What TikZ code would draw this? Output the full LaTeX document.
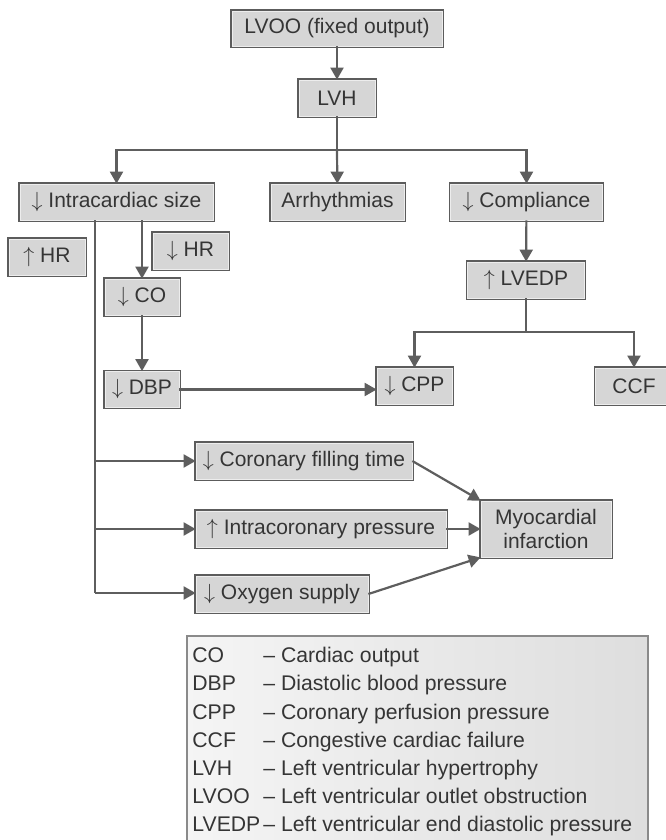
\documentclass[tikz,border=0pt]{standalone}
\usepackage{fontspec}
\setmainfont{Liberation Sans}
\usetikzlibrary{positioning, arrows.meta}
\usepackage{xcolor}
\definecolor{boxfill}{HTML}{D6D6D6}
\definecolor{boxline}{HTML}{5C5C5C}
\definecolor{boxrim}{HTML}{EDEDED}
\definecolor{ink}{HTML}{353535}
\definecolor{wire}{HTML}{5E5E5E}
\definecolor{keyline}{HTML}{8A8A8A}
\newcommand{\flowfont}{\fontsize{10.5}{12}\selectfont}
\newcommand{\keyfont}{\fontsize{10.6}{12}\selectfont}
\tikzset{
	>={Triangle[width=6.5pt,length=6pt]},
	box/.style={preaction={draw=boxline, line width=1.8pt}, draw=boxrim, line width=0.4pt,
		fill=boxfill, text=ink, minimum height=18pt, inner sep=2pt, font=\flowfont},
	wireline/.style={draw=wire, line width=1.1pt},
	flow/.style={wireline, ->},
	keybox/.style={draw=keyline, line width=0.8pt, left color=gray!8, right color=gray!26},
	keytext/.style={text=ink, inner sep=0pt, font=\keyfont}}

\begin{document}
\begin{tikzpicture}[x=0.5pt, y=-0.5pt]
	\useasboundingbox (0,0) rectangle (665,840);
	
	\node[box, minimum width=105pt, minimum height=17.5pt] (lvoo) at (337,28.5) {LVOO (fixed output)};
	\node[box, minimum width=38pt] (lvh) at (337,98) {LVH};
	\node[box, minimum width=96.5pt] (size) at (116.5,202) {$\downarrow$ Intracardiac size};
	\node[box, minimum width=66.5pt] (arrh) at (337.5,202) {Arrhythmias};
	\node[box, minimum width=76pt] (compl) at (526.5,202) {$\downarrow$ Compliance};
	\node[box, minimum width=38pt] (uphr) at (47,257) {$\uparrow$ HR};
	\node[box, minimum width=37.5pt] (downhr) at (190.5,251) {$\downarrow$ HR};
	\node[box, minimum width=37pt] (co) at (142,297) {$\downarrow$ CO};
	\node[box, minimum width=58.5pt] (lvedp) at (526,280) {$\uparrow$ LVEDP};
	\node[box, minimum width=37pt] (dbp) at (142,389.5) {$\downarrow$ DBP};
	\node[box, minimum width=37.5pt] (cpp) at (414.5,386) {$\downarrow$ CPP};
	\node[box, minimum width=38.5pt] (ccf) at (634,386) {CCF};
	\node[box, minimum width=108pt] (filling) at (304,461) {$\downarrow$ Coronary filling time};
	\node[box, minimum width=125pt] (pressure) at (321,529) {$\uparrow$ Intracoronary pressure};
	\node[box, minimum width=86pt] (oxygen) at (282,594) {$\downarrow$ Oxygen supply};
	\node[box, minimum width=65pt, minimum height=28pt, align=center] (mi) at (546,529) {Myocardial\\infarction};
	
	\coordinate (split) at (337,150);
	\coordinate (fork) at (526,332);
	\coordinate (trunk) at (95,593);
	
	\draw[flow] (lvoo) -- (lvh);
	\draw[wireline] (lvh) -- (split);
	\draw[flow] (split) -| (size);
	\draw[flow] (split) -- (arrh);
	\draw[flow] (split) -| (compl);
	\draw[flow] (size.south -| co) -- (co);
	\draw[flow] (co) -- (dbp);
	\draw[flow] (dbp) -- (dbp -| cpp.west);
	\draw[flow] (compl) -- (lvedp);
	\draw[wireline] (lvedp) -- (fork);
	\draw[flow] (fork) -| (cpp);
	\draw[flow] (fork) -| (ccf);
	\draw[wireline] (size.south -| trunk) -- (trunk);
	\draw[flow] (trunk |- filling) -- (filling);
	\draw[flow] (trunk |- pressure) -- (pressure);
	\draw[flow] (trunk) -- (trunk -| oxygen.west);
	\draw[flow] (filling.east) -- (mi.north west);
	\draw[flow] (pressure) -- (mi);
	\draw[flow] (oxygen.east) -- (mi.south west);
	
	% key to the abbreviations
	\node[keybox, minimum width=230.5pt, minimum height=107.5pt, anchor=north west] (key) at (186,635) {};
	\foreach \abbr/\full [count=\i] in {CO/Cardiac output, DBP/Diastolic blood pressure,
		CPP/Coronary perfusion pressure, CCF/Congestive cardiac failure,
		LVH/Left ventricular hypertrophy, LVOO/Left ventricular outlet obstruction,
		LVEDP/Left ventricular end diastolic pressure}
		\node[keytext, anchor=base west] (key\i) at (192,{662.7+28.2*(\i-1)}) {\makebox[35.5pt][l]{\abbr}-- \full};
\end{tikzpicture}
\end{document}
